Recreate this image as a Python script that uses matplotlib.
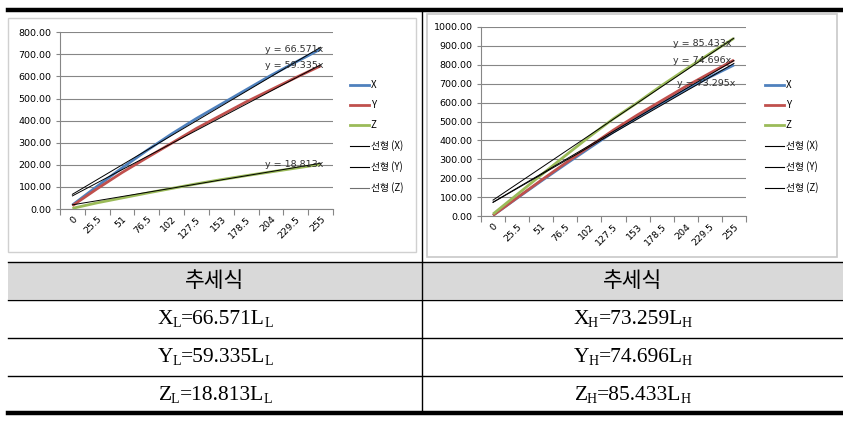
import matplotlib
matplotlib.use("Agg")
import matplotlib.pyplot as plt
from matplotlib.lines import Line2D
from matplotlib.patches import Rectangle
import numpy as np

plt.rcParams['font.family'] = ['Noto Sans CJK KR', 'DejaVu Sans']

# ---------------- data ----------------
categories = ["0", "25.5", "51", "76.5", "102", "127.5", "153", "178.5", "204", "229.5", "255"]

low_x = [18, 103, 186, 265, 340, 410, 475, 540, 605, 665, 724]
low_y = [15, 92, 165, 232, 298, 365, 425, 485, 540, 595, 648]
low_z = [3, 28, 50, 72, 93, 114, 133, 151, 168, 185, 202]
low_coef = [66.571, 59.335, 18.813]

high_x = [5, 96, 186, 274, 360, 445, 522, 596, 668, 735, 798]
high_y = [5, 98, 190, 280, 368, 455, 535, 610, 685, 755, 824]
high_z = [12, 115, 218, 320, 420, 515, 600, 690, 775, 858, 939]
high_coef = [73.295, 74.696, 85.433]

series_names = ["X", "Y", "Z"]
trend_names = ["선형 (X)", "선형 (Y)", "선형 (Z)"]

table_header = "추세식"
# (main, subscript) pieces of each formula
table_left = [[("X", False), ("L", True), ("=66.571L", False), ("L", True)],
              [("Y", False), ("L", True), ("=59.335L", False), ("L", True)],
              [("Z", False), ("L", True), ("=18.813L", False), ("L", True)]]
table_right = [[("X", False), ("H", True), ("=73.259L", False), ("H", True)],
               [("Y", False), ("H", True), ("=74.696L", False), ("H", True)],
               [("Z", False), ("H", True), ("=85.433L", False), ("H", True)]]

colors = ["#4F81BD", "#C0504D", "#9BBB59"]

W, H = 843, 434
fig = plt.figure(figsize=(W / 100, H / 100), dpi=100)
renderer = fig.canvas.get_renderer()


def fx(px):
    return px / W


def fy(py):
    return 1 - py / H


def draw_chart(rect, data, coefs, ymax, label_pos, legend_xy, zgray):
    l, t, r, b = rect
    ax = fig.add_axes([fx(l), fy(b), fx(r) - fx(l), fy(t) - fy(b)])
    idx = np.arange(len(categories))
    for vals, c in zip(data, colors):
        ax.plot(idx, vals, color=c, lw=2.0, solid_capstyle='butt', zorder=3)
    trend_handles = []
    for i, coef in enumerate(coefs):
        tc = '#707070' if (zgray and i == 2) else 'black'
        ax.plot(idx, coef * (idx + 1), color='black', lw=0.7, zorder=4)
        trend_handles.append(Line2D([], [], color=tc, lw=0.8))
    for coef, (lx, ly) in zip(coefs, label_pos):
        ax.text(lx, ly, f"y = {coef:.3f}x", fontsize=6.8, color='#303030',
                family='DejaVu Sans', ha='left', va='center', zorder=5)
    ax.set_xlim(-0.5, len(categories) - 0.5)
    ax.set_ylim(0, ymax)
    ax.set_yticks(np.arange(0, ymax + 1, 100))
    ax.set_yticklabels([f"{v:.2f}" for v in np.arange(0, ymax + 1, 100)],
                       fontsize=6.8, family='DejaVu Sans')
    ax.set_xticks(idx)
    ax.set_xticklabels(categories, rotation=45, ha='right', va='top',
                       rotation_mode='anchor', fontsize=6.8, family='DejaVu Sans')
    ax.tick_params(axis='x', length=0, pad=4)
    ax.set_xticks(np.arange(-0.5, len(categories)), minor=True)
    ax.tick_params(axis='x', which='minor', length=4, color='#868686', width=0.8)
    ax.tick_params(axis='y', length=3, color='#868686', width=0.8, pad=3)
    ax.grid(axis='y', color='#868686', lw=0.8)
    ax.set_axisbelow(True)
    for s in ['top', 'right']:
        ax.spines[s].set_visible(False)
    for s in ['left', 'bottom']:
        ax.spines[s].set_color('#868686')
        ax.spines[s].set_linewidth(0.8)
    ax.patch.set_alpha(0)

    handles = [Line2D([], [], color=c, lw=2.0) for c in colors] + trend_handles
    labels = series_names + trend_names
    fig.legend(handles, labels, loc='upper left',
               bbox_to_anchor=(fx(legend_xy[0]), fy(legend_xy[1])),
               frameon=False, fontsize=7, handlelength=2.0, handletextpad=0.15,
               labelspacing=1.04, borderpad=0, borderaxespad=0)
    return ax


# chart borders
fig.patches.append(Rectangle((fx(8), fy(252)), fx(416) - fx(8), fy(18) - fy(252),
                             transform=fig.transFigure, fill=False, ec='#d0d0d0', lw=1))
fig.patches.append(Rectangle((fx(427), fy(257)), fx(837) - fx(427), fy(14) - fy(257),
                             transform=fig.transFigure, fill=False, ec='#c8c8c8', lw=1.2))

# label positions per series (X, Y, Z)
draw_chart((60, 32.3, 333, 209), [low_x, low_y, low_z], low_coef, 800,
           [(7.75, 722), (7.75, 650), (7.75, 202)], (350, 80), True)
draw_chart((481, 26.7, 746, 216.3), [high_x, high_y, high_z], high_coef, 1000,
           [(7.65, 702), (7.45, 820), (7.45, 912)], (765, 80), False)

# table
fig.patches.append(Rectangle((fx(8), fy(299)), fx(843) - fx(8), fy(262) - fy(299),
                             transform=fig.transFigure, color='#d9d9d9', lw=0, zorder=0))


def hline(py, lw, x0=8, x1=843):
    fig.add_artist(Line2D([fx(x0), fx(x1)], [fy(py), fy(py)], color='black', lw=lw,
                          transform=fig.transFigure))


hline(10, 3.2)
hline(262, 1.0)
hline(299.5, 1.0)
hline(337.5, 1.0)
hline(375.5, 1.0)
hline(413, 3.2)
fig.add_artist(Line2D([fx(422), fx(422)], [fy(10), fy(413)], color='black', lw=1.0,
                      transform=fig.transFigure))

cx_left, cx_right = (8 + 422) / 2, (422 + 843) / 2
fig.text(fx(cx_left), fy(281), table_header, fontsize=15.5, ha='center', va='center',
         family='Noto Sans CJK KR')
fig.text(fx(cx_right), fy(281), table_header, fontsize=15.5, ha='center', va='center',
         family='Noto Sans CJK KR')


def draw_formula(cx, cy, pieces):
    texts = []
    widths = []
    for s, sub in pieces:
        t = fig.text(0, 0, s, fontsize=10 if sub else 15.5, family='Liberation Serif',
                     ha='left', va='baseline', parse_math=False)
        widths.append(t.get_window_extent(renderer).width)
        texts.append((t, sub))
    kern = [(-1.0 if sub else 0.5) for _, sub in pieces]
    total = sum(widths) + sum(kern)
    x = cx - total / 2
    base = cy + 6
    for (t, sub), w, k in zip(texts, widths, kern):
        x += k
        t.set_position((fx(x), fy(base + (2.5 if sub else 0))))
        x += w


for i, (tl, tr) in enumerate(zip(table_left, table_right)):
    yy = [318.5, 356.5, 394.5][i]
    draw_formula(cx_left, yy, tl)
    draw_formula(cx_right, yy, tr)

fig.savefig("out.png", dpi=100)
